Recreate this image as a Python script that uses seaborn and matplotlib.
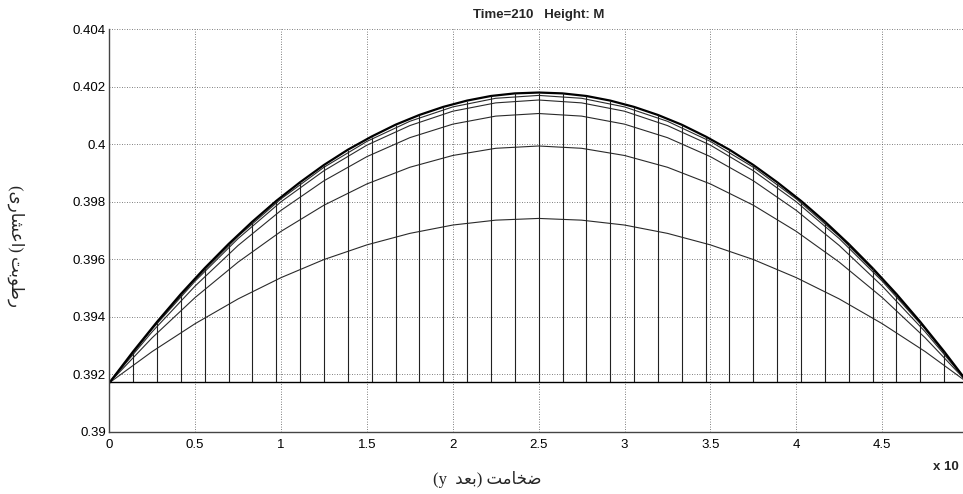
import numpy as np
import pandas as pd
import matplotlib
matplotlib.use("Agg")
import matplotlib.pyplot as plt
import seaborn as sns

# =============================
# DATA (moisture profiles across the board thickness)
# =============================
base_level = 0.39173

# fine grid: 37 nodes, top profile + stems
thickness_fine = np.linspace(0, 5, 37)
top_profile = [0.39170, 0.39279, 0.39382, 0.39479, 0.39569, 0.39653, 0.39731,
               0.39803, 0.39868, 0.39928, 0.39981, 0.40027, 0.40068, 0.40102,
               0.40130, 0.40152, 0.40168, 0.40177, 0.40180, 0.40177, 0.40168,
               0.40152, 0.40130, 0.40102, 0.40068, 0.40027, 0.39981, 0.39928,
               0.39868, 0.39803, 0.39731, 0.39653, 0.39569, 0.39479, 0.39382,
               0.39279, 0.39170]

# coarse grid for the other profiles
thickness_coarse = np.linspace(0, 5, 21)
profile_2 = [0.3917, 0.3936, 0.3953, 0.3968, 0.3981, 0.3992, 0.4001, 0.4008,
             0.4013, 0.4016, 0.4017, 0.4016, 0.4013, 0.4008, 0.4001, 0.3992,
             0.3981, 0.3968, 0.3953, 0.3936, 0.3917]
profile_3 = [0.39170, 0.39357, 0.39524, 0.39672, 0.39800, 0.39908, 0.39997,
             0.40065, 0.40115, 0.40144, 0.40154, 0.40144, 0.40115, 0.40065,
             0.39997, 0.39908, 0.39800, 0.39672, 0.39524, 0.39357, 0.39170]
profile_4 = [0.39170, 0.39348, 0.39507, 0.39648, 0.39770, 0.39873, 0.39957,
             0.40023, 0.40070, 0.40098, 0.40107, 0.40098, 0.40070, 0.40023,
             0.39957, 0.39873, 0.39770, 0.39648, 0.39507, 0.39348, 0.39170]
profile_5 = [0.39170, 0.39327, 0.39467, 0.39590, 0.39697, 0.39788, 0.39862,
             0.39920, 0.39961, 0.39986, 0.39994, 0.39986, 0.39961, 0.39920,
             0.39862, 0.39788, 0.39697, 0.39590, 0.39467, 0.39327, 0.39170]
profile_6 = [0.39170, 0.39279, 0.39376, 0.39462, 0.39536, 0.39599, 0.39650,
             0.39690, 0.39719, 0.39736, 0.39742, 0.39736, 0.39719, 0.39690,
             0.39650, 0.39599, 0.39536, 0.39462, 0.39376, 0.39279, 0.39170]

x_ticks = [0, 0.5, 1, 1.5, 2, 2.5, 3, 3.5, 4, 4.5]
x_ticklabels = ["0", "0.5", "1", "1.5", "2", "2.5", "3", "3.5", "4", "4.5"]
y_ticks = [0.390, 0.392, 0.394, 0.396, 0.398, 0.400, 0.402, 0.404]
y_ticklabels = ["0.39", "0.392", "0.394", "0.396", "0.398", "0.4", "0.402", "0.404"]

title_text = "Time=210   Height: M"

# =============================
# PERSIAN TEXT (manual shaping, matplotlib has no bidi)
# =============================
FORMS = {
    "ا": ("\uFE8D", "\uFE8E", None, None),
    "ب": ("\uFE8F", "\uFE90", "\uFE91", "\uFE92"),
    "ت": ("\uFE95", "\uFE96", "\uFE97", "\uFE98"),
    "خ": ("\uFEA5", "\uFEA6", "\uFEA7", "\uFEA8"),
    "د": ("\uFEA9", "\uFEAA", None, None),
    "ر": ("\uFEAD", "\uFEAE", None, None),
    "ش": ("\uFEB5", "\uFEB6", "\uFEB7", "\uFEB8"),
    "ض": ("\uFEBD", "\uFEBE", "\uFEBF", "\uFEC0"),
    "ط": ("\uFEC1", "\uFEC2", "\uFEC3", "\uFEC4"),
    "ع": ("\uFEC9", "\uFECA", "\uFECB", "\uFECC"),
    "م": ("\uFEE1", "\uFEE2", "\uFEE3", "\uFEE4"),
    "و": ("\uFEED", "\uFEEE", None, None),
    "ی": ("\uFBFC", "\uFBFD", "\uFBFE", "\uFBFF"),
}


def shape_fa(word):
    out = []
    for i, ch in enumerate(word):
        iso, fin, ini, med = FORMS[ch]
        joins_prev = i > 0 and FORMS[word[i - 1]][2] is not None
        joins_next = i < len(word) - 1 and ini is not None
        if joins_prev and joins_next:
            out.append(med)
        elif joins_prev:
            out.append(fin)
        elif joins_next:
            out.append(ini)
        else:
            out.append(iso)
    return "".join(reversed(out))


x_label = "(y  " + shape_fa("بعد") + ") " + shape_fa("ضخامت")
y_label = "(" + shape_fa("اعشاری") + ") " + shape_fa("رطوبت")

# =============================
# PLOT
# =============================
sns.set_style("white")
plt.rcParams["font.family"] = ["Liberation Sans", "DejaVu Sans"]

W, H = 963, 494
fig = plt.figure(figsize=(W / 100, H / 100), dpi=100)
ax = fig.add_axes([109.3 / W, 62.3 / H, 858.7 / W, 402.4 / H])

profiles = pd.DataFrame({
    "x": np.tile(thickness_coarse, 5),
    "y": profile_2 + profile_3 + profile_4 + profile_5 + profile_6,
    "curve": np.repeat(["p2", "p3", "p4", "p5", "p6"], len(thickness_coarse)),
})
sns.lineplot(data=profiles, x="x", y="y", units="curve", estimator=None,
             color="#2a2a2a", linewidth=0.8, ax=ax, legend=False)

top_df = pd.DataFrame({"x": thickness_fine, "y": top_profile})
sns.lineplot(data=top_df, x="x", y="y", color="black", linewidth=1.6, ax=ax)

# stems from base level up to the top profile
ax.vlines(thickness_fine, base_level, top_profile, color="#222222", linewidth=0.8)
ax.axhline(base_level, color="black", linewidth=1.0)

ax.set_xlim(0, 5)
ax.set_ylim(0.39, 0.404)
ax.set_xticks(x_ticks)
ax.set_xticklabels(x_ticklabels)
ax.set_yticks(y_ticks)
ax.set_yticklabels(y_ticklabels)
ax.set_xlabel("")
ax.set_ylabel("")

ax.grid(True, linestyle=(0, (1, 2)), color="#555555", linewidth=0.6)
ax.tick_params(axis="both", direction="in", length=6, width=0.8, colors="#333333",
               labelcolor="black", labelsize=9.5)
ax.tick_params(axis="x", pad=5)
ax.tick_params(axis="y", pad=2.5)
for side in ["top", "right"]:
    ax.spines[side].set_visible(False)
for side in ["left", "bottom"]:
    ax.spines[side].set_color("#444444")
    ax.spines[side].set_linewidth(1.0)

ax.set_title(title_text, fontsize=9.5, fontweight="bold", pad=8)

fig.text(487 / W, 1 - 479 / H, x_label, ha="center", va="center", fontsize=12,
         family=["Liberation Serif", "DejaVu Sans"])
fig.text(16 / W, 1 - 246 / H, y_label, ha="center", va="center", fontsize=12,
         rotation=270, family=["Liberation Serif", "DejaVu Sans"])
fig.text(933 / W, 1 - 467 / H, "x 10", ha="left", va="center", fontsize=9.5,
         fontweight="bold")

fig.savefig("out.png", dpi=100)
